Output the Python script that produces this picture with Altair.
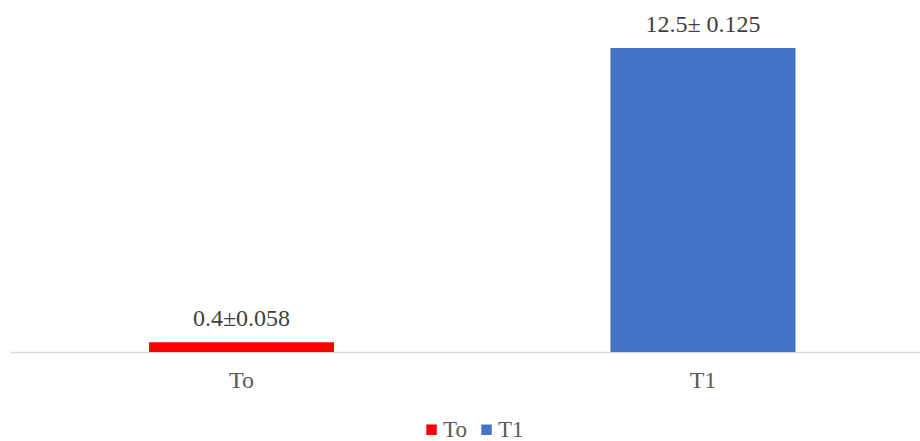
import altair as alt
import pandas as pd

categories = ["To", "T1"]
values = [0.4, 12.5]
labels = ["0.4±0.058", "12.5± 0.125"]
colors = ["#FF0000", "#4472C4"]

df = pd.DataFrame({"cat": categories, "val": values, "lab": labels})

FONT = "Liberation Serif"

x = alt.X("cat:N", sort=categories, title=None,
          scale=alt.Scale(paddingInner=0.599, paddingOuter=0.2854, align=0.5275),
          axis=alt.Axis(labelAngle=0, ticks=False, labelFont=FONT, labelFontSize=24,
                        labelColor="#595959", labelBaseline="alphabetic", labelPadding=35,
                        domainColor="#D9D9D9", domainWidth=1.5, grid=False))
y = alt.Y("val:Q", axis=None, scale=alt.Scale(domain=[0, 14.47], nice=False))

bars = alt.Chart(df).mark_bar().encode(
    x=x, y=y,
    color=alt.Color("cat:N", sort=categories,
                    scale=alt.Scale(domain=categories, range=colors),
                    legend=alt.Legend(title=None, orient="none", direction="horizontal",
                                      legendX=410, legendY=418,
                                      symbolType="square", symbolSize=110,
                                      symbolStrokeWidth=0, labelFont=FONT, labelFontSize=23,
                                      labelColor="#595959", labelOffset=0, columnPadding=8))
)

text = alt.Chart(df).mark_text(font=FONT, fontSize=24, color="#404040",
                               baseline="alphabetic", dy=-16).encode(
    x=alt.X("cat:N", sort=categories), y=y, text="lab:N")

chart = (bars + text).properties(
    width=910, height=352,
    autosize=alt.AutoSizeParams(type="none"),
    padding={"left": 10, "top": 0, "right": 0, "bottom": 89},
).configure_view(stroke=None)

chart.save("out.html", embed_options={"renderer": "svg", "actions": False})
